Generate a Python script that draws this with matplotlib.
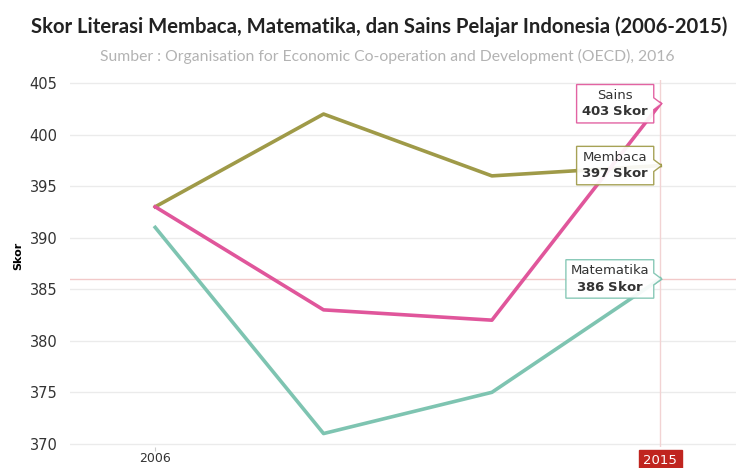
import matplotlib
matplotlib.use("Agg")
import matplotlib.pyplot as plt
from matplotlib.path import Path

tahun = [2006, 2009, 2012, 2015]
membaca = [393, 402, 396, 397]
sains = [393, 383, 382, 403]
matematika = [391, 371, 375, 386]

seri = [
    ("Membaca", membaca, "#9f9a48"),
    ("Sains", sains, "#e0569b"),
    ("Matematika", matematika, "#7ec4b1"),
]
y_ticks = [370, 375, 380, 385, 390, 395, 400, 405]

plt.rcParams["mathtext.fontset"] = "dejavusans"


def callout(x0, y0, width, height, mutation_size):
    # kotak dengan ujung runcing di sisi kanan
    pad = 0.35 * mutation_size
    x0, y0 = x0 - pad, y0 - pad
    x1, y1 = x0 + width + 2 * pad, y0 + height + 2 * pad
    ym = (y0 + y1) / 2
    h = 0.45 * mutation_size
    tip = 0.6 * mutation_size
    verts = [(x0, y0), (x1, y0), (x1, ym - h), (x1 + tip, ym),
             (x1, ym + h), (x1, y1), (x0, y1), (x0, y0)]
    codes = [Path.MOVETO] + [Path.LINETO] * 6 + [Path.CLOSEPOLY]
    return Path(verts, codes)


fig = plt.figure(figsize=(7.36, 4.68), dpi=100)
fig.patch.set_facecolor("white")
ax = fig.add_axes([0.095, 0.045, 0.905, 0.784])
ax.set_xlim(2004.48, 2016.35)
ax.set_ylim(369.7, 405.3)

for sp in ax.spines.values():
    sp.set_visible(False)
ax.set_yticks(y_ticks)
ax.grid(axis="y", color="#ebebeb", linewidth=1)
ax.set_axisbelow(True)
ax.tick_params(axis="y", length=0, labelsize=10.5, labelcolor="#333333", pad=9)
ax.set_xticks([2006])
ax.tick_params(axis="x", length=3, color="#cccccc", labelsize=9, labelcolor="#333333", pad=1)
ax.set_ylabel("Skor", fontsize=8, fontweight="bold")
ax.yaxis.set_label_coords(-0.07, 0.52)

# crosshair
ax.axvline(2015, color="#f2d3d3", linewidth=1, zorder=1)
ax.axhline(386, color="#f2c9c9", linewidth=1, zorder=1)

for nama, nilai, warna in seri:
    ax.plot(tahun, nilai, color=warna, linewidth=2.6, zorder=3)
    ax.annotate(nama + "\n" + r"$\mathbf{" + str(nilai[-1]) + r"\ Skor}$",
                xy=(tahun[-1], nilai[-1]), xytext=(-8, 0),
                textcoords="offset points", ha="right", va="center",
                multialignment="center", fontsize=9.5, color="#333333",
                zorder=5,
                bbox=dict(boxstyle=callout, facecolor="white",
                          edgecolor=warna, linewidth=1, alpha=0.92))

# label tahun 2015 (tooltip sumbu x)
ax.annotate("2015", xy=(2015, 369.7), xytext=(0, -10),
            textcoords="offset points", ha="center", va="center",
            fontsize=9.5, color="white", annotation_clip=False,
            bbox=dict(boxstyle="square,pad=0.35", facecolor="#c0251f",
                      edgecolor="#c0251f"))

fig.text(0.515, 0.942, "Skor Literasi Membaca, Matematika, dan Sains Pelajar Indonesia (2006-2015)",
         ha="center", va="center", fontsize=14.6, fontweight="bold",
         family="Lato", color="#222222")
fig.text(0.526, 0.880, "Sumber : Organisation for Economic Co-operation and Development (OECD), 2016",
         ha="center", va="center", fontsize=11.3, family="Lato", color="#b3b3b3")

fig.savefig("out.png", dpi=100, facecolor="white")
